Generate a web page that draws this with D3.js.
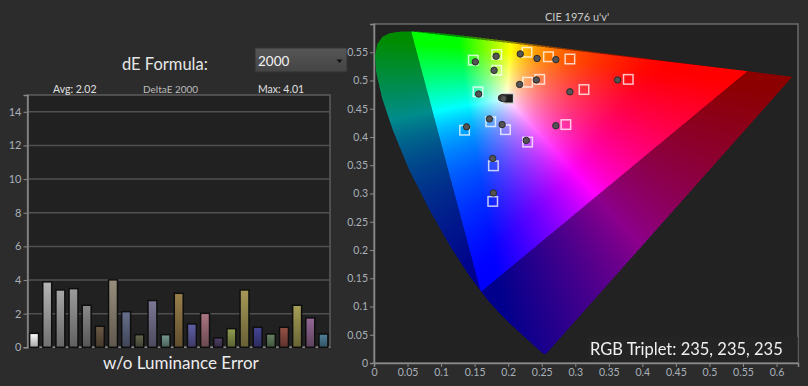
<!DOCTYPE html>
<html>
<head>
<meta charset="utf-8">
<script src="https://cdn.jsdelivr.net/npm/d3@7"></script>
<style>
body { margin: 0; background: #2c2c2c; }
#wrap { position: relative; width: 808px; height: 386px; overflow: hidden; }
#wrap svg, #wrap canvas { position: absolute; left: 0; top: 0; }
svg { font-family: Lato, "Open Sans", sans-serif; }
</style>
</head>
<body>
<div id="wrap">
  <svg id="back" width="808" height="386"></svg>
  <canvas id="gamut"></canvas>
  <svg id="front" width="808" height="386"></svg>
</div>
<script>
// deltaE bars, one per patch
var barValues = [0.83, 3.89, 3.41, 3.49, 2.50, 1.25, 4.01, 2.12, 0.75, 2.78, 0.75, 3.21,
    1.39, 2.02, 0.56, 1.11, 3.41, 1.19, 0.79, 1.19, 2.50, 1.75, 0.79];
var barColors = ["#f4f4f4", "#a6a6a6", "#999999", "#8e8e8e", "#7e7e7e", "#64523f", "#8c8272",
    "#5e6680", "#5c5e48", "#706e88", "#6c8c84", "#8c7444", "#5a5898", "#9c6c76", "#4c3c60",
    "#86904a", "#988c50", "#40408a", "#5e7a5a", "#8a4a40", "#989250", "#88608a", "#4a7890"];
var barTicks = [0, 2, 4, 6, 8, 10, 12, 14];

// CIE 1931 spectral locus (x, y), 380..700 nm
var locusX = [0.1741, 0.1740, 0.1738, 0.1736, 0.1733, 0.1730, 0.1726, 0.1721, 0.1714, 0.1703,
    0.1689, 0.1669, 0.1644, 0.1611, 0.1566, 0.1510, 0.1440, 0.1355, 0.1241, 0.1096, 0.0913,
    0.0687, 0.0454, 0.0235, 0.0082, 0.0039, 0.0139, 0.0389, 0.0743, 0.1142, 0.1547, 0.1929,
    0.2296, 0.2658, 0.3016, 0.3373, 0.3731, 0.4087, 0.4441, 0.4788, 0.5125, 0.5448, 0.5752,
    0.6029, 0.6270, 0.6482, 0.6658, 0.6801, 0.6915, 0.7006, 0.7079, 0.7140, 0.7190, 0.7260,
    0.7300, 0.7347];
var locusY = [0.0050, 0.0050, 0.0049, 0.0049, 0.0048, 0.0048, 0.0048, 0.0048, 0.0051, 0.0058,
    0.0069, 0.0086, 0.0109, 0.0138, 0.0177, 0.0227, 0.0297, 0.0399, 0.0578, 0.0868, 0.1327,
    0.2007, 0.2950, 0.4127, 0.5384, 0.6548, 0.7502, 0.8120, 0.8338, 0.8262, 0.8059, 0.7816,
    0.7543, 0.7243, 0.6923, 0.6589, 0.6245, 0.5896, 0.5547, 0.5202, 0.4866, 0.4544, 0.4242,
    0.3965, 0.3725, 0.3514, 0.3340, 0.3197, 0.3083, 0.2993, 0.2920, 0.2859, 0.2809, 0.2740,
    0.2700, 0.2653];
// Rec.2020 primaries (x, y)
var primX = [0.708, 0.170, 0.131];
var primY = [0.292, 0.797, 0.046];

var uTicks = [0, 0.05, 0.1, 0.15, 0.2, 0.25, 0.3, 0.35, 0.4, 0.45, 0.5, 0.55, 0.6];
var vTicks = [0, 0.05, 0.1, 0.15, 0.2, 0.25, 0.3, 0.35, 0.4, 0.45, 0.5, 0.55];

// targets (squares) and measured (circles), u'v'
var targetU = [0.148, 0.183, 0.183, 0.228, 0.260, 0.292, 0.155, 0.229, 0.247, 0.313, 0.379,
    0.174, 0.135, 0.196, 0.286, 0.229, 0.178, 0.177];
var targetV = [0.536, 0.546, 0.518, 0.550, 0.542, 0.538, 0.480, 0.497, 0.502, 0.484, 0.502,
    0.427, 0.412, 0.413, 0.422, 0.391, 0.349, 0.286];
var whiteTarget = [0.1978, 0.4683];
var measU = [0.151, 0.182, 0.179, 0.218, 0.243, 0.271, 0.156, 0.217, 0.242, 0.292, 0.363,
    0.172, 0.138, 0.191, 0.271, 0.227, 0.177, 0.178, 0.190, 0.192, 0.193];
var measV = [0.533, 0.543, 0.518, 0.547, 0.539, 0.537, 0.476, 0.493, 0.501, 0.480, 0.501,
    0.432, 0.418, 0.422, 0.420, 0.394, 0.362, 0.301, 0.469, 0.470, 0.468];

var back = d3.select("#back");
var front = d3.select("#front");
var tickColor = "#a9b0b8";

// ---------- left: deltaE bar chart ----------
var bx = d3.scaleBand()
    .domain(d3.range(barValues.length))
    .range([27.5, 330])
    .paddingInner(0.32)
    .paddingOuter(0.16);
var by = d3.scaleLinear().domain([0, 15]).range([347.3, 95]);

back.append("rect")
    .attr("x", 27.5).attr("y", 95)
    .attr("width", 330 - 27.5).attr("height", 347.3 - 95)
    .attr("fill", "#212121")
    .attr("stroke", "#5c5c5c")
    .attr("stroke-width", 1.5);

back.append("g").selectAll("line")
    .data(barTicks.filter(d => d > 0))
    .enter().append("line")
    .attr("x1", 27.5).attr("x2", 330)
    .attr("y1", d => by(d)).attr("y2", d => by(d))
    .attr("stroke", "#505050")
    .attr("stroke-width", 1.5);

var yAxis = back.append("g")
    .attr("transform", "translate(27.5,0)")
    .call(d3.axisLeft(by).tickValues(barTicks).tickSize(4).tickPadding(2));
yAxis.select(".domain").attr("stroke", "#8a8a8a").attr("stroke-width", 1.5);
yAxis.selectAll(".tick line").attr("stroke", "#8a8a8a");
yAxis.selectAll("text").attr("fill", tickColor).attr("font-size", 11).attr("font-family", "Lato, sans-serif");

back.append("line")
    .attr("x1", 27.5).attr("x2", 330)
    .attr("y1", 347.3).attr("y2", 347.3)
    .attr("stroke", "#8a8a8a").attr("stroke-width", 1.5);

var defs = back.append("defs");
barColors.forEach(function (c, i) {
    var g = defs.append("linearGradient")
        .attr("id", "bar" + i)
        .attr("x1", 0).attr("y1", 0).attr("x2", 0).attr("y2", 1);
    g.append("stop").attr("offset", "0%").attr("stop-color", d3.color(c).brighter(0.25));
    g.append("stop").attr("offset", "100%").attr("stop-color", d3.color(c).darker(1.1));
});

back.append("g").selectAll("rect")
    .data(barValues)
    .enter().append("rect")
    .attr("x", (d, i) => bx(i))
    .attr("y", d => by(d))
    .attr("width", bx.bandwidth())
    .attr("height", d => by(0) - by(d))
    .attr("fill", (d, i) => "url(#bar" + i + ")")
    .attr("stroke", "#0e0e0e")
    .attr("stroke-width", 1.5);

back.append("text").attr("x", 122).attr("y", 69.5)
    .attr("fill", "#e6e6e6").attr("font-size", 16.5).text("dE Formula:");

var dd = back.append("g");
var ddGrad = defs.append("linearGradient").attr("id", "dd")
    .attr("x1", 0).attr("y1", 0).attr("x2", 0).attr("y2", 1);
ddGrad.append("stop").attr("offset", "0%").attr("stop-color", "#565656");
ddGrad.append("stop").attr("offset", "100%").attr("stop-color", "#444444");
dd.append("rect").attr("x", 255).attr("y", 48).attr("width", 92).attr("height", 24)
    .attr("fill", "url(#dd)").attr("stroke", "#333");
dd.append("text").attr("x", 258).attr("y", 66)
    .attr("fill", "#f2f2f2").attr("font-size", 13.5).text("2000");
dd.append("path").attr("d", "M336.5,59.5 L342.5,59.5 L339.5,63 Z").attr("fill", "#111");

back.append("text").attr("x", 53).attr("y", 93)
    .attr("fill", "#e0e0e0").attr("font-size", 10.5).text("Avg: 2.02");
back.append("text").attr("x", 143).attr("y", 92.5)
    .attr("fill", "#bdbdbd").attr("font-size", 10).text("DeltaE 2000");
back.append("text").attr("x", 258).attr("y", 93)
    .attr("fill", "#e0e0e0").attr("font-size", 10.5).text("Max: 4.01");

back.append("text").attr("x", 103).attr("y", 369)
    .attr("fill", "#ececec").attr("font-size", 17).text("w/o Luminance Error");

// ---------- right: CIE 1976 u'v' ----------
var pLeft = 374, pRight = 798, pTop = 24, pBottom = 363;
var xc = d3.scaleLinear().domain([0, 0.632]).range([pLeft, pRight]);
var yc = d3.scaleLinear().domain([0, 0.6]).range([pBottom, pTop]);

function xyToUv(x, y) {
    var d = -2 * x + 12 * y + 3;
    return [4 * x / d, 9 * y / d];
}
var locus = locusX.map((x, i) => xyToUv(x, locusY[i]));
var rec2020 = primX.map((x, i) => xyToUv(x, primY[i]));

back.append("rect")
    .attr("x", pLeft).attr("y", pTop)
    .attr("width", pRight - pLeft).attr("height", pBottom - pTop)
    .attr("fill", "#222222")
    .attr("stroke", "#6a6a6a")
    .attr("stroke-width", 1.5);

var xAxis = back.append("g")
    .attr("transform", "translate(0," + pBottom + ")")
    .call(d3.axisBottom(xc).tickValues(uTicks).tickSize(4).tickPadding(2)
        .tickFormat(d => String(+d.toFixed(2))));
var vAxis = back.append("g")
    .attr("transform", "translate(" + pLeft + ",0)")
    .call(d3.axisLeft(yc).tickValues(vTicks).tickSize(4).tickPadding(2)
        .tickFormat(d => String(+d.toFixed(2))));
[xAxis, vAxis].forEach(function (a) {
    a.select(".domain").attr("stroke", "#8a8a8a").attr("stroke-width", 1.5);
    a.selectAll(".tick line").attr("stroke", "#8a8a8a");
    a.selectAll("text").attr("fill", tickColor).attr("font-size", 10.5).attr("font-family", "Lato, sans-serif");
});

back.append("text").attr("x", 545).attr("y", 20.5)
    .attr("fill", "#c8c8c8").attr("font-size", 11).text("CIE 1976 u'v'");

// colour fill of the locus, drawn on a canvas at 2x
var ss = 2;
var cw = pRight - pLeft, ch = pBottom - pTop;
var canvas = d3.select("#gamut")
    .attr("width", cw * ss).attr("height", ch * ss)
    .style("left", pLeft + "px").style("top", pTop + "px")
    .style("width", cw + "px").style("height", ch + "px");
var ctx = canvas.node().getContext("2d");
var img = ctx.createImageData(cw * ss, ch * ss);

function gammaEnc(c) {
    return c <= 0.0031308 ? 12.92 * c : 1.055 * Math.pow(c, 1 / 2.4) - 0.055;
}
// sRGB colour for a chromaticity, pushed a bit more saturated
function uvColor(u, v) {
    var d = 6 * u - 16 * v + 12;
    var x = 9 * u / d, y = 4 * v / d;
    var X = x / y, Y = 1, Z = (1 - x - y) / y;
    var r = Math.max(0, 3.2406 * X - 1.5372 * Y - 0.4986 * Z);
    var g = Math.max(0, -0.9689 * X + 1.8758 * Y + 0.0415 * Z);
    var b = Math.max(0, 0.0557 * X - 0.2040 * Y + 1.0570 * Z);
    var m = Math.max(r, g, b);
    return [r, g, b].map(c => gammaEnc(Math.pow(c / m, 2)));
}

for (let j = 0; j < ch * ss; j++) {
    let v = yc.invert(pTop + (j + 0.5) / ss);
    for (let i = 0; i < cw * ss; i++) {
        let u = xc.invert(pLeft + (i + 0.5) / ss);
        if (!d3.polygonContains(locus, [u, v])) continue;
        let c = uvColor(u, v);
        let k = d3.polygonContains(rec2020, [u, v]) ? 1 : 0.55;
        let p = (j * cw * ss + i) * 4;
        img.data[p] = c[0] * 255 * k;
        img.data[p + 1] = c[1] * 255 * k;
        img.data[p + 2] = c[2] * 255 * k;
        img.data[p + 3] = 255;
    }
}
ctx.putImageData(img, 0, 0);

// targets and measurements
var sq = 9.5;
front.append("g").selectAll("rect")
    .data(targetU)
    .enter().append("rect")
    .attr("x", (d, i) => xc(d) - sq / 2)
    .attr("y", (d, i) => yc(targetV[i]) - sq / 2)
    .attr("width", sq).attr("height", sq)
    .attr("fill", "none")
    .attr("stroke", "rgba(255,255,255,0.75)")
    .attr("stroke-width", 1.5);

front.append("rect")
    .attr("x", xc(whiteTarget[0]) - sq / 2 + 2)
    .attr("y", yc(whiteTarget[1]) - sq / 2)
    .attr("width", sq).attr("height", sq)
    .attr("fill", "#1c1c1c")
    .attr("stroke", "#d8d8d8")
    .attr("stroke-width", 1.2);

front.append("g").selectAll("circle")
    .data(measU)
    .enter().append("circle")
    .attr("cx", d => xc(d))
    .attr("cy", (d, i) => yc(measV[i]))
    .attr("r", 3.2)
    .attr("fill", "#545454")
    .attr("stroke", "#2a2a2a")
    .attr("stroke-width", 1);

front.append("rect")
    .attr("x", 588).attr("y", 337)
    .attr("width", 210).attr("height", 25)
    .attr("fill", "rgba(38,38,38,0.8)");
front.append("text").attr("x", 590).attr("y", 355)
    .attr("fill", "#f0f0f0").attr("font-size", 16.5).text("RGB Triplet: 235, 235, 235");
</script>
</body>
</html>
